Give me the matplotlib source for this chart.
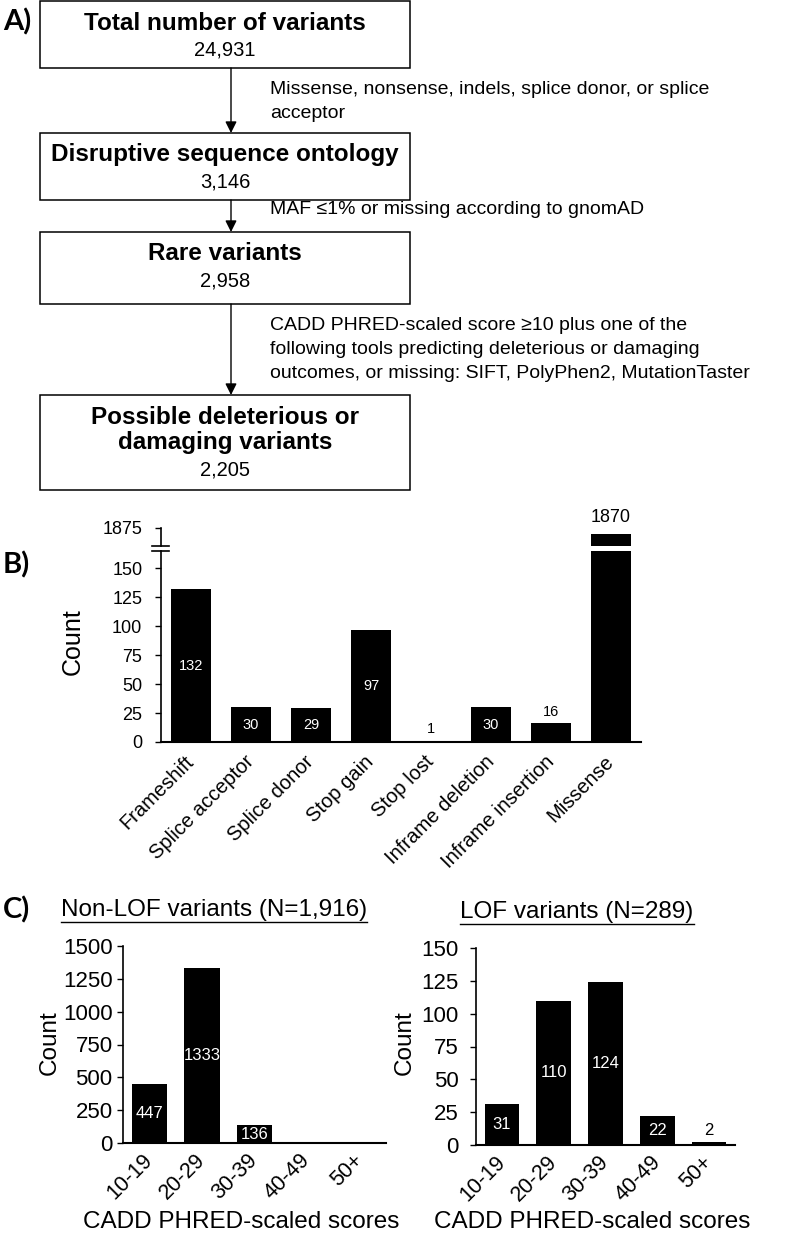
import matplotlib
matplotlib.use('Agg')
import matplotlib.pyplot as plt
from matplotlib.patches import Rectangle
from matplotlib.lines import Line2D

plt.rcParams['font.family'] = ['Liberation Sans', 'DejaVu Sans']

W, H = 787, 1233

# A) filtering steps
box_titles = [['Total number of variants'],
              ['Disruptive sequence ontology'],
              ['Rare variants'],
              ['Possible deleterious or', 'damaging variants']]
box_counts = ['24,931', '3,146', '2,958', '2,205']
filters = [['Missense, nonsense, indels, splice donor, or splice', 'acceptor'],
           ['MAF ≤1% or missing according to gnomAD'],
           ['CADD PHRED-scaled score ≥10 plus one of the',
            'following tools predicting deleterious or damaging',
            'outcomes, or missing: SIFT, PolyPhen2, MutationTaster']]

# B) sequence ontology
consequences = ['Frameshift', 'Splice acceptor', 'Splice donor', 'Stop gain',
                'Stop lost', 'Inframe deletion', 'Inframe insertion', 'Missense']
consequence_counts = [132, 30, 29, 97, 1, 30, 16, 1870]

# C) CADD score bins
score_bins = ['10-19', '20-29', '30-39', '40-49', '50+']
nonlof_counts = [447, 1333, 136, 0, 0]
lof_counts = [31, 110, 124, 22, 2]


def rect(x0, y0, x1, y1):
    # pixel box (top-left origin) -> figure fraction
    return [x0 / W, 1 - y1 / H, (x1 - x0) / W, (y1 - y0) / H]


fig = plt.figure(figsize=(W / 100, H / 100), dpi=100)

# ---------------- panel A ----------------
axA = fig.add_axes([0, 0, 1, 1])
axA.set_xlim(0, W)
axA.set_ylim(H, 0)
axA.axis('off')

box_top = [1, 133, 232, 395]
box_bot = [68, 200, 304, 490]
bx0, bx1 = 40, 410
for i in range(len(box_titles)):
    axA.add_patch(Rectangle((bx0, box_top[i]), bx1 - bx0, box_bot[i] - box_top[i],
                            fill=False, edgecolor='black', lw=1.1))
    y = box_top[i] + 22
    for line in box_titles[i]:
        axA.text((bx0 + bx1) / 2, y, line, ha='center', va='center',
                 fontsize=17.5, fontweight='bold')
        y += 26
    axA.text((bx0 + bx1) / 2, y + 1, box_counts[i], ha='center', va='center', fontsize=14.5)

filter_y = [90, 210, 326]
for i in range(len(filters)):
    axA.annotate('', xy=(231, box_top[i + 1]), xytext=(231, box_bot[i]),
                 arrowprops=dict(arrowstyle='-|>', color='black', lw=1,
                                 mutation_scale=17, shrinkA=0, shrinkB=0))
    for j, line in enumerate(filters[i]):
        axA.text(270, filter_y[i] + 23.5 * j, line, ha='left', va='center', fontsize=14)

for lab, ly in (('A)', 22), ('B)', 565), ('C)', 910)):
    axA.text(3, ly, lab, ha='left', va='center', fontsize=21, fontweight='bold',
             family=['Lato', 'DejaVu Sans'])

# ---------------- panel B ----------------
xb = list(range(len(consequences)))
axB = fig.add_axes(rect(161, 551, 641, 742))
axBt = fig.add_axes(rect(161, 528, 641, 546))
for ax in (axB, axBt):
    ax.bar(xb, consequence_counts, width=0.67, color='black')
    ax.set_xlim(-0.5, 7.5)
    ax.spines['top'].set_visible(False)
    ax.spines['right'].set_visible(False)
    ax.tick_params(axis='y', direction='out', length=4.5, width=1, labelsize=13, pad=9)
    ax.patch.set_alpha(0)
axB.set_ylim(0, 165)
axB.set_yticks([0, 25, 50, 75, 100, 125, 150])
axB.spines['left'].set_linewidth(1.2)
axB.spines['bottom'].set_linewidth(1.5)
axB.set_xticks(xb)
axB.set_xticklabels(consequences, rotation=45, ha='right', va='center',
                    rotation_mode='anchor', fontsize=14.5)
axB.tick_params(axis='x', length=0, pad=12)
axBt.set_ylim(1860, 1875)
axBt.set_yticks([1875])
axBt.set_xticks([])
axBt.spines['bottom'].set_visible(False)
axBt.spines['left'].set_linewidth(1.2)

for xi, v in zip(xb, consequence_counts):
    if v > 165:
        axBt.text(xi, 1877, str(v), ha='center', va='bottom', fontsize=13, clip_on=False)
    elif v >= 20:
        axB.text(xi, v / 2, str(v), ha='center', va='center', fontsize=10.5, color='white')
    else:
        axB.text(xi, v + 4, str(v), ha='center', va='bottom', fontsize=10.5)

# break marks on the axis
for yy in (546, 551):
    fig.add_artist(Line2D([152 / W, 169 / W], [1 - yy / H, 1 - yy / H],
                          color='black', lw=1.2))
fig.text(73 / W, 1 - 642 / H, 'Count', rotation=90, ha='center', va='center', fontsize=18)

# ---------------- panel C ----------------
panels = [
    (rect(123, 946, 386, 1143), nonlof_counts, 1500, 250, 100, 3,
     'Non-LOF variants (N=1,916)', 214, 910, 50, 241),
    (rect(476, 948, 735, 1145), lof_counts, 150, 25, 10, 8,
     'LOF variants (N=289)', 577, 912, 405, 592),
]
titles = []
xc = list(range(len(score_bins)))
for box, counts, top, step, inside_min, ypad, title, tx, ty, cx, lx in panels:
    ax = fig.add_axes(box)
    ax.bar(xc, counts, width=0.67, color='black')
    ax.set_xlim(-0.5, 4.5)
    ax.set_ylim(0, top)
    ax.set_yticks(list(range(0, top + 1, step)))
    ax.spines['top'].set_visible(False)
    ax.spines['right'].set_visible(False)
    ax.spines['left'].set_linewidth(1.2)
    ax.spines['bottom'].set_linewidth(1.5)
    ax.tick_params(axis='y', direction='out', length=4.5, width=1, labelsize=16, pad=ypad)
    ax.set_xticks(xc)
    ax.set_xticklabels(score_bins, rotation=45, ha='right', va='center',
                       rotation_mode='anchor', fontsize=15.5)
    ax.tick_params(axis='x', length=0, pad=10)
    for xi, v in zip(xc, counts):
        if v >= inside_min:
            ax.text(xi, v / 2, str(v), ha='center', va='center', fontsize=12, color='white')
        elif v > 0:
            ax.text(xi, v + top * 0.02, str(v), ha='center', va='bottom', fontsize=12)
    titles.append(fig.text(tx / W, 1 - ty / H, title, ha='center', va='center', fontsize=17.5))
    fig.text(cx / W, 1 - 1043 / H, 'Count', rotation=90, ha='center', va='center', fontsize=17.5)
    fig.text(lx / W, 1 - 1222 / H, 'CADD PHRED-scaled scores', ha='center', va='center',
             fontsize=17.5)

# underline the panel C titles
fig.canvas.draw()
inv = fig.transFigure.inverted()
for t in titles:
    bb = t.get_window_extent()
    (x0, y0), (x1, _) = inv.transform([(bb.x0, bb.y0 - 1), (bb.x1, bb.y0)])
    fig.add_artist(Line2D([x0, x1], [y0, y0], color='black', lw=1))

fig.savefig('out.png', dpi=100)
